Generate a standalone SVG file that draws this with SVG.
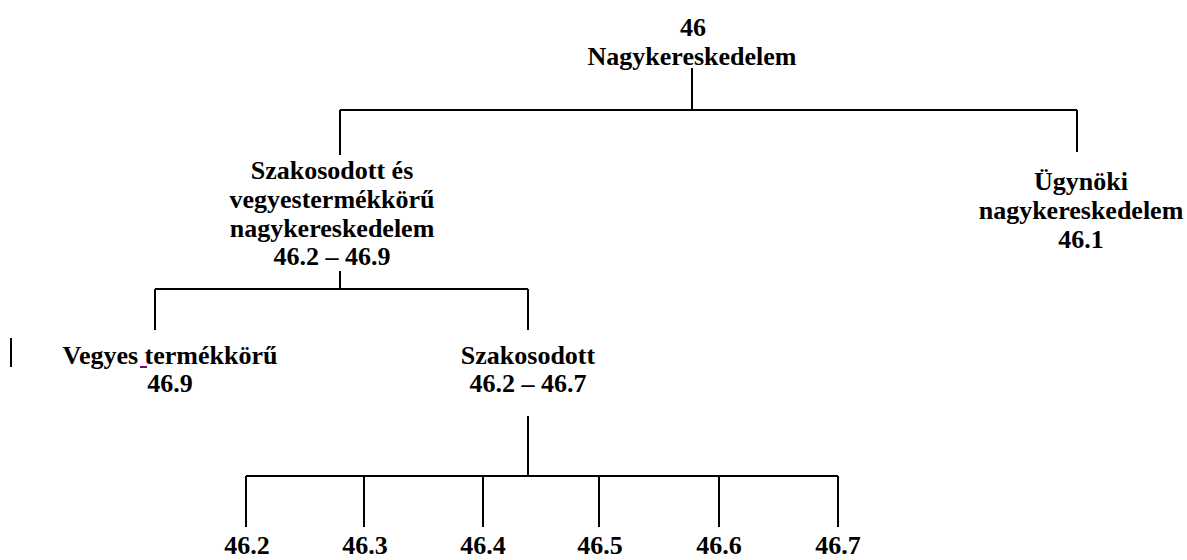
<svg xmlns="http://www.w3.org/2000/svg" width="1187" height="560" viewBox="0 0 1187 560">
<style>
text{font-family:"Liberation Serif","Times New Roman",serif;font-weight:bold;font-size:26px;fill:#000;text-anchor:middle}
.c{stroke:#000;stroke-width:2;fill:none}
</style>
<rect width="1187" height="560" fill="#fff"/>
<g id="connectors" class="c">
<path d="M692 68V110M340 110H1077M340 110V155M1077 110V152"/>
<path d="M340 271V289M155 289H528M155 289V330M528 289V330"/>
<path d="M528 416V476M246 476H838M246 476V527M364 476V527M483 476V527M599 476V527M719 476V527M838 476V527"/>
</g>
<g id="n46"><text x="693" y="36">46</text><text x="692" y="65">Nagykereskedelem</text></g>
<g id="szak-vegy"><text x="332" y="179">Szakosodott és</text><text x="332" y="208">vegyestermékkörű</text><text x="332" y="237">nagykereskedelem</text><text x="332" y="265">46.2 – 46.9</text></g>
<g id="ugynoki"><text x="1081" y="190">Ügynöki</text><text x="1081" y="219">nagykereskedelem</text><text x="1081" y="248">46.1</text></g>
<g id="vegyes"><text x="170" y="364">Vegyes termékkörű</text><text x="170" y="392">46.9</text><rect x="140" y="366" width="7" height="2" fill="#800080"/></g>
<g id="szakosodott"><text x="528" y="364">Szakosodott</text><text x="528" y="392">46.2 – 46.7</text></g>
<rect x="10" y="338" width="2" height="29" fill="#000"/>
<g id="n462"><text x="247" y="554">46.2</text></g>
<g id="n463"><text x="365" y="554">46.3</text></g>
<g id="n464"><text x="483" y="554">46.4</text></g>
<g id="n465"><text x="600" y="554">46.5</text></g>
<g id="n466"><text x="719" y="554">46.6</text></g>
<g id="n467"><text x="838" y="554">46.7</text></g>
</svg>
